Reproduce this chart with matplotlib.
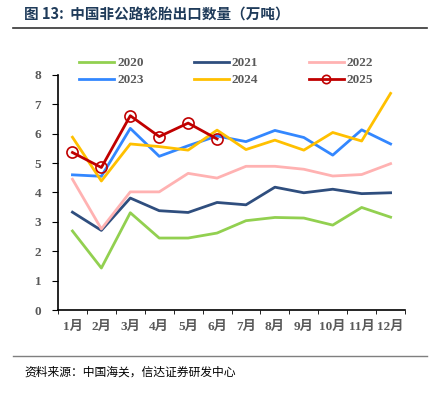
import numpy as np
import matplotlib
matplotlib.use('Agg')
import matplotlib.pyplot as plt
from matplotlib.lines import Line2D

plt.rcParams['font.family'] = ['Liberation Serif', 'Noto Sans CJK SC']

# data (万吨)
months = ['1月', '2月', '3月', '4月', '5月', '6月', '7月', '8月', '9月', '10月', '11月', '12月']
y2020 = [2.69, 1.43, 3.31, 2.45, 2.45, 2.62, 3.04, 3.15, 3.13, 2.89, 3.49, 3.16]
y2021 = [3.33, 2.71, 3.81, 3.38, 3.32, 3.66, 3.58, 4.18, 3.99, 4.11, 3.96, 3.99]
y2022 = [4.45, 2.76, 4.02, 4.02, 4.65, 4.49, 4.89, 4.89, 4.79, 4.56, 4.61, 4.98]
y2023 = [4.60, 4.55, 6.18, 5.23, 5.59, 5.92, 5.73, 6.11, 5.87, 5.27, 6.13, 5.65]
y2024 = [5.88, 4.39, 5.65, 5.56, 5.44, 6.12, 5.46, 5.78, 5.44, 6.04, 5.75, 7.37]
y2025 = [5.36, 4.85, 6.61, 5.90, 6.36, 5.82]

gray = '#595959'
fig = plt.figure(figsize=(4.36, 3.94), dpi=100)
ax = fig.add_axes([0.133, 0.213, 0.796, 0.597])

x = np.arange(len(months))
l20, = ax.plot(x, y2020, color='#92D050', lw=2, label='2020')
l21, = ax.plot(x, y2021, color='#2F4E7E', lw=2, label='2021')
l22, = ax.plot(x, y2022, color='#FFB2B2', lw=2, label='2022')
l23, = ax.plot(x, y2023, color='#3387FF', lw=2, label='2023')
l24, = ax.plot(x, y2024, color='#FFC000', lw=2, label='2024')
l25, = ax.plot(x[:len(y2025)], y2025, color='#C00000', lw=2, marker='o', ms=8,
               mfc='none', mec='#C00000', mew=1.2, label='2025')

ax.set_xlim(-0.5, 11.5)
ax.set_ylim(0, 8)
ax.set_yticks(range(0, 9))
ax.set_xticks(x)
ax.set_xticklabels(months)
ax.set_xticks(np.arange(-0.5, 12, 1), minor=True)
ax.tick_params(axis='x', which='major', length=0, pad=8)
ax.tick_params(axis='x', which='minor', length=3, direction='out', color='black')
ax.tick_params(axis='y', length=4, direction='out', pad=8)
for lab in ax.get_xticklabels() + ax.get_yticklabels():
    lab.set_fontweight('bold')
    lab.set_color(gray)
    lab.set_fontsize(9.5)
for s in ['top', 'right']:
    ax.spines[s].set_visible(False)
ax.spines['left'].set_linewidth(1.2)
ax.spines['bottom'].set_linewidth(1.2)

# legend filled row by row: 2020 2021 2022 / 2023 2024 2025
handles = [l20, l23, l21, l24, l22, l25]
leg = ax.legend(handles, [h.get_label() for h in handles],
                loc='upper left', bbox_to_anchor=(0.155, 0.885), bbox_transform=fig.transFigure,
                ncol=3, frameon=False, handlelength=2.6, handletextpad=0.25,
                columnspacing=3.85, labelspacing=0.35,
                prop={'weight': 'bold', 'size': 9.5})
for t in leg.get_texts():
    t.set_color(gray)
for h in leg.legend_handles:
    if h.get_marker() == 'o':
        h.set_markersize(6)

# title and source
fig.text(0.055, 0.962, '图 13:  中国非公路轮胎出口数量（万吨）', fontsize=10.5, fontweight='bold',
         color='#1F3B5A', va='center', family=['Noto Sans CJK SC', 'DejaVu Sans'])
fig.add_artist(Line2D([0.03, 0.98], [0.928, 0.928], color='#333333', lw=1.2))
fig.add_artist(Line2D([0.03, 0.98], [0.097, 0.097], color='#7F7F7F', lw=1.0))
fig.text(0.055, 0.055, '资料来源：中国海关，信达证券研发中心', fontsize=8.5, style='italic',
         color='black', va='center', family=['Noto Sans CJK SC', 'DejaVu Sans'])

fig.savefig('out.png', dpi=100)
